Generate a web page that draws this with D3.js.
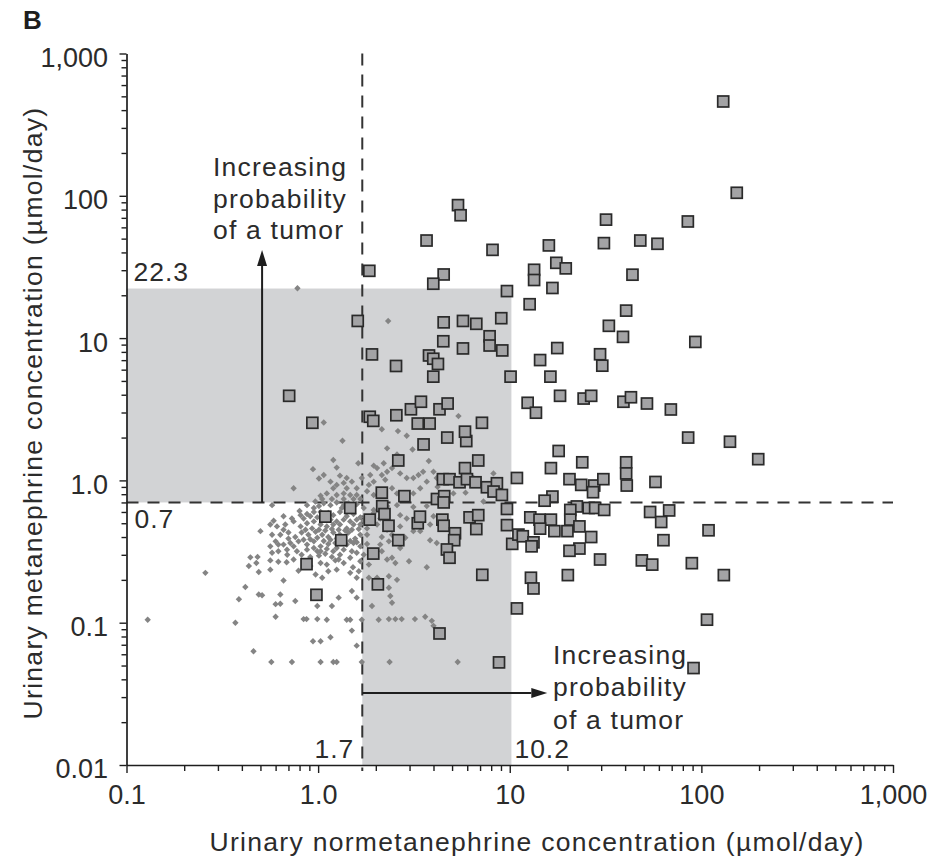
<!DOCTYPE html>
<html>
<head>
<meta charset="utf-8">
<script src="https://cdn.jsdelivr.net/npm/d3@7"></script>
<style>
body { margin: 0; background: #fff; }
text { font-family: "Liberation Sans", Arial, Helvetica, sans-serif; fill: #2b2b2b; }
</style>
</head>
<body>
<div id="draw"></div>
<script>
// [normetanephrine, metanephrine] in umol/day
var tumorPts = [
	[130,460],[153,105],[31.8,68],[85,66],[31,46.5],[48,48.5],[59,46],[43.7,27.9],[40.5,15.6],[32.9,12.2],[39,10.2],[93,9.4],[29.6,7.7],[30.4,6.4],
	[5.37,86],[5.54,73],[3.68,48.5],[8.13,41.7],[16,44.8],[17.5,33.8],[19.6,30.9],[13.4,30.2],[13.4,25.6],[16.7,22.5],[1.85,29.7],[4.52,28],[3.99,24.1],
	[9.67,21.4],[12.7,17.3],[1.61,13.2],[4.52,12.9],[5.7,13.2],[6.69,12.6],[9.03,13.8],[4.5,9.5],[5.7,8.46],[7.85,10.3],[7.85,8.87],[9.14,8.19],
	[1.91,7.68],[2.55,6.37],[3.79,7.55],[3.99,7.16],[4.22,6.58],[14.4,7.01],[17.7,8.51],[3.99,5.36],[10.1,5.36],[16.3,5.36],
	[0.706,3.93],[0.933,2.54],[1.86,2.8],[1.94,2.62],[2.56,2.87],[3.05,3.16],[3.44,3.57],[4.3,3.16],[4.74,3.47],[3.31,2.51],[3.82,2.51],[4.72,2.0],
	[5.93,1.89],[5.84,2.2],[7.16,2.54],[3.55,1.79],[2.62,1.38],[6.85,1.38],[5.84,1.22],[4.48,1.02],[4.85,1.02],[5.47,0.97],[5.98,1.02],[6.63,0.97],
	[7.6,0.895],[8.57,0.955],[8.23,0.835],[9.1,0.79],[2.15,0.82],[2.82,0.775],[4.17,0.74],[4.55,0.775],[4.52,0.7],[1.47,0.64],[9.67,0.63],[2.16,0.66],
	[2.22,0.58],[1.86,0.53],[1.09,0.556],[2.33,0.48],[3.31,0.5],[3.4,0.556],[4.45,0.53],[4.52,0.48],[6.17,0.55],[6.85,0.57],[6.69,0.455],[9.67,0.485],
	[5.18,0.425],[5.13,0.38],[2.62,0.38],[1.32,0.38],[4.7,0.327],[4.85,0.286],[10.3,0.358],[1.94,0.306],[0.87,0.258],[7.19,0.217],[2.05,0.186],
	[0.98,0.157],[4.3,0.084],[8.79,0.0526],[10.9,0.126],[10.9,1.04],[11.1,0.416],
	[18.3,3.93],[12.4,3.51],[13.7,2.99],[24.3,3.76],[26.6,3.93],[39.2,3.57],[42.9,3.84],[52,3.47],[69.3,3.15],[85.3,2.0],[141,1.87],[198,1.41],
	[18,1.61],[23.9,1.34],[16.4,1.22],[40.5,1.34],[40.5,1.12],[40.8,0.92],[57.6,0.975],[20.5,1.02],[23.6,0.93],[27.6,0.92],[30.8,1.02],[27.2,0.826],
	[16.7,0.77],[15.2,0.72],[22.4,0.656],[20.7,0.62],[25.8,0.64],[27.9,0.64],[31.1,0.62],[12.8,0.55],[14.3,0.53],[16.4,0.53],[20.7,0.53],[23.1,0.475],
	[14.4,0.458],[17.1,0.44],[20,0.44],[11.7,0.405],[13.3,0.367],[13,0.344],[26.6,0.4],[23.1,0.332],[20.5,0.32],[54,0.6],[67.9,0.615],[61.7,0.51],
	[63.4,0.38],[109,0.446],[29.6,0.278],[48.9,0.274],[55.4,0.256],[89.2,0.262],[131,0.216],[20.1,0.216],[12.9,0.207],[13.3,0.174],[107,0.105],[91,0.048]
];

var noTumorPts = [
	[1.07,2.55],[1.34,1.9],[2.15,2.29],[2.61,2.22],[2.9,2.06],[2.29,1.68],[3.11,1.65],[2.58,1.52],[3.78,1.37],[5.4,2.83],
	[1.2,1.39],[1.25,1.23],[1.62,1.32],[0.94,1.2],[1.01,1.03],[1.07,1.09],[0.745,0.88],[1.3,1.08],[1.25,0.93],[1.36,0.96],
	[1.41,1.04],[1.2,0.88],[1.11,0.81],[1.03,0.78],[1.95,1.27],[2.03,1.22],[2.2,1.32],[2.29,1.15],[2.43,1.22],[1.87,1.09],
	[1.95,0.98],[2.15,1.09],[2.24,1.01],[2.68,1.12],[2.9,1.04],[3.14,1.04],[3.34,1.09],[3.53,1.15],[3.69,0.98],[4.0,1.15],
	[4.16,1.04],[4.2,0.9],[5.08,0.81],[5.88,0.82],[6.47,1.04],[7.29,0.71],[8.22,1.12],[3.41,0.88],[3.14,0.81],[2.58,0.81],
	[2.43,0.88],[1.8,0.84],[1.59,0.79],[1.47,0.79],[1.36,0.81],[1.84,0.93],[1.69,1.04],[1.59,0.88],[1.95,0.79],[1.36,0.74],
	[1.66,0.74],[2.9,0.75],
	[0.575,0.67],[0.8,0.61],[0.875,0.67],[0.95,0.64],[1.01,0.66],[1.07,0.69],[1.16,0.67],[1.25,0.7],[1.36,0.67],[1.5,0.66],
	[1.59,0.68],[1.73,0.64],[1.95,0.62],[2.29,0.66],[2.58,0.67],[3.14,0.65],[3.69,0.66],
	[0.586,0.52],[0.66,0.56],[0.73,0.54],[0.81,0.57],[0.875,0.58],[0.95,0.6],[1.03,0.6],[1.13,0.59],[1.2,0.57],[1.3,0.6],
	[1.41,0.56],[1.53,0.58],[1.66,0.55],[1.95,0.59],[2.11,0.54],[2.68,0.57],[2.9,0.54],[4.0,0.56],[3.84,0.49],[3.41,0.44],
	[0.5,0.44],[0.563,0.49],[0.61,0.475],[0.674,0.49],[0.745,0.515],[0.81,0.475],[0.875,0.5],[0.95,0.515],[1.03,0.49],[1.11,0.475],
	[1.2,0.49],[1.3,0.49],[1.41,0.46],[1.53,0.49],[1.66,0.49],[1.8,0.46],[2.03,0.49],[2.29,0.45],[2.68,0.475],[3.14,0.44],
	[0.575,0.415],[0.635,0.415],[0.7,0.43],[0.76,0.4],[0.82,0.43],[0.89,0.415],[0.97,0.435],[1.05,0.415],[1.13,0.4],[1.2,0.43],
	[1.3,0.415],[1.44,0.43],[1.56,0.39],[1.66,0.415],[1.8,0.415],[2.15,0.4],[2.43,0.415],[2.85,0.395],[3.84,0.38],
	[0.563,0.344],[0.6,0.373],[0.66,0.354],[0.716,0.363],[0.79,0.373],[0.875,0.354],[0.95,0.373],[1.03,0.344],[1.13,0.357],[1.23,0.363],
	[1.41,0.354],[1.53,0.363],[1.66,0.344],[1.8,0.357],[2.11,0.354],[2.34,0.373],[2.68,0.335],[4.16,0.363],
	[0.443,0.288],[0.483,0.29],[0.575,0.31],[0.62,0.318],[0.69,0.3],[0.775,0.318],[0.82,0.3],[0.99,0.318],[1.09,0.305],[1.2,0.318],
	[1.3,0.3],[1.47,0.286],[1.59,0.31],[1.73,0.3],[2.15,0.318],[2.43,0.286],[2.98,0.27],[3.69,0.245],
	[0.435,0.25],[0.476,0.263],[0.563,0.274],[0.62,0.268],[0.685,0.266],[0.745,0.278],[0.91,0.25],[1.03,0.263],[1.11,0.256],[1.23,0.274],
	[1.36,0.263],[1.52,0.245],[1.66,0.27],[1.84,0.256],[2.29,0.278],[2.53,0.263],
	[0.258,0.224],[0.49,0.227],[0.563,0.236],[0.66,0.198],[0.79,0.232],[0.97,0.218],[1.05,0.207],[1.13,0.23],[1.25,0.236],[1.47,0.224],
	[1.59,0.207],[2.34,0.212],[2.58,0.2],[1.63,0.23],[2.03,0.207],
	[0.417,0.178],[0.49,0.158],[0.51,0.156],[0.635,0.158],[0.386,0.146],[0.6,0.135],[0.635,0.136],[0.76,0.142],[0.99,0.131],[1.18,0.131],
	[1.28,0.15],[1.5,0.167],[1.59,0.15],[1.91,0.131],[2.38,0.154],[2.43,0.138],[2.34,0.176],[1.84,0.207],
	[0.37,0.1],[0.6,0.11],[0.84,0.106],[0.87,0.106],[0.99,0.106],[1.11,0.105],[1.41,0.105],[1.47,0.105],[1.69,0.105],[2.07,0.105],
	[2.34,0.106],[2.53,0.106],[2.73,0.106],[3.2,0.106],[3.62,0.11],[3.92,0.103],[4.0,0.095],
	[1.5,0.088],[1.16,0.079],[0.94,0.074],[1.03,0.074],[1.59,0.069],
	[0.46,0.063],[0.57,0.053],[0.73,0.053],[1.03,0.053],[1.2,0.053],[1.25,0.053],[1.69,0.053],[2.36,0.053],[5.35,0.053],
	[0.129,0.105],[0.78,22.4],[2.32,13.2],
	[0.84,0.54],[0.91,0.56],[0.99,0.55],[1.07,0.55],[1.16,0.53],[1.25,0.515],[1.36,0.53],[1.47,0.515],[1.59,0.53],[1.73,0.52],
	[0.86,0.45],[0.93,0.46],[1.01,0.45],[1.09,0.445],[1.18,0.455],[1.28,0.45],[1.385,0.445],[1.5,0.45],[1.63,0.455],
	[0.84,0.383],[0.91,0.386],[0.99,0.395],[1.07,0.375],[1.16,0.383],[1.25,0.39],[1.36,0.383],[1.47,0.375],[1.59,0.368],
	[0.875,0.326],[0.95,0.335],[1.03,0.318],[1.11,0.33],[1.25,0.335],[1.36,0.326],[1.5,0.318],
	[0.66,0.45],[0.7,0.39],[0.62,0.354],[0.745,0.344],[0.688,0.326],
	[0.91,0.29],[1.01,0.296],[1.18,0.29],[1.28,0.278],
	[1.16,0.98],[1.41,0.88],[1.5,0.98],[1.25,0.79],[1.18,0.74],[1.53,0.74],[1.44,0.69],[1.33,0.64],[1.05,0.74],[0.967,0.71]
];

var xMajor = [0.1, 1, 10, 100, 1000];
var xTickLabels = ['0.1', '1.0', '10', '100', '1,000'];
var yMajor = [0.01, 0.1, 1, 10, 100, 1000];
var yTickLabels = ['0.01', '0.1', '1.0', '10', '100', '1,000'];

var normCut = [1.7, 10.2];   // normetanephrine cut-offs
var metaCut = [0.7, 22.3];   // metanephrine cut-offs

var arrowUp = { x: 0.51, from: 0.7, to: 41.6 };
var arrowRight = { y: 0.032, from: 1.7, to: 15.7 };
var noteLines = ['Increasing', 'probability', 'of a tumor'];

var margin = { top: 53.5, right: 42, bottom: 95, left: 126.5 },
	width = 935 - margin.left - margin.right,
	height = 860 - margin.top - margin.bottom;

var root = d3
	.select('#draw')
	.append('svg')
	.attr('width', 935)
	.attr('height', 860);

var svg = root
	.append('g')
	.attr('transform', 'translate(' + margin.left + ',' + margin.top + ')');

var x = d3.scaleLog().domain([0.1, 1000]).range([0, width]);
var y = d3.scaleLog().domain([0.01, 1000]).range([height, 0]);

// shaded zones
var shade = '#d2d3d5';
svg.append('rect')
	.attr('x', x(0.1)).attr('y', y(metaCut[1]))
	.attr('width', x(normCut[1]) - x(0.1))
	.attr('height', y(metaCut[0]) - y(metaCut[1]))
	.style('fill', shade);
svg.append('rect')
	.attr('x', x(normCut[0])).attr('y', y(metaCut[0]) - 1)
	.attr('width', x(normCut[1]) - x(normCut[0]))
	.attr('height', y(0.01) - y(metaCut[0]) + 1)
	.style('fill', shade);

// dashed cut-off lines
svg.append('line')
	.attr('x1', x(normCut[0])).attr('x2', x(normCut[0]))
	.attr('y1', y(1000)).attr('y2', y(0.01) + 6)
	.style('stroke', '#333').style('stroke-width', 2)
	.style('stroke-dasharray', '12,9');
svg.append('line')
	.attr('x1', x(0.1)).attr('x2', x(1000))
	.attr('y1', y(metaCut[0])).attr('y2', y(metaCut[0]))
	.style('stroke', '#333').style('stroke-width', 2)
	.style('stroke-dasharray', '12,9');

// patients without tumor
svg.selectAll('.dia')
	.data(noTumorPts)
	.enter()
	.append('path')
	.attr('class', 'dia')
	.attr('d', 'M0,-3.2L3.2,0L0,3.2L-3.2,0Z')
	.attr('transform', function (d) {
		return 'translate(' + x(d[0]) + ',' + y(d[1]) + ')';
	})
	.style('fill', '#848484');

// patients with tumor
var sq = 11;
svg.selectAll('.sq')
	.data(tumorPts)
	.enter()
	.append('rect')
	.attr('class', 'sq')
	.attr('x', function (d) { return x(d[0]) - sq / 2; })
	.attr('y', function (d) { return y(d[1]) - sq / 2; })
	.attr('width', sq)
	.attr('height', sq)
	.style('fill', '#a3a3a5')
	.style('stroke', '#2a2a2a')
	.style('stroke-width', 1.7);

// arrows
function arrow(x1, y1, x2, y2) {
	var a = Math.atan2(y2 - y1, x2 - x1), len = 16, hw = 5;
	var bx = x2 - len * Math.cos(a), by = y2 - len * Math.sin(a);
	svg.append('line')
		.attr('x1', x1).attr('y1', y1).attr('x2', bx).attr('y2', by)
		.style('stroke', '#1e1e1e').style('stroke-width', 2);
	svg.append('path')
		.attr('d', 'M' + x2 + ',' + y2 +
			'L' + (bx - hw * Math.sin(a)) + ',' + (by + hw * Math.cos(a)) +
			'L' + (bx + hw * Math.sin(a)) + ',' + (by - hw * Math.cos(a)) + 'Z')
		.style('fill', '#1e1e1e');
}
arrow(x(arrowUp.x), y(arrowUp.from), x(arrowUp.x), y(arrowUp.to));
arrow(x(arrowRight.from), y(arrowRight.y), x(arrowRight.to), y(arrowRight.y));

// notes
function note(x0, y0, gap) {
	svg.append('text')
		.attr('x', x0).attr('y', y0)
		.style('font-size', '26.5px').style('letter-spacing', '1.2px')
		.selectAll('tspan')
		.data(noteLines)
		.enter()
		.append('tspan')
		.attr('x', x0)
		.attr('dy', function (d, i) { return i ? gap : 0; })
		.text(function (d) { return d; });
}
note(213 - margin.left, 176 - margin.top, 31.5);
note(553 - margin.left, 663.5 - margin.top, 32.5);

function cutLabel(t, px, py, anchor) {
	svg.append('text')
		.attr('x', px).attr('y', py)
		.style('text-anchor', anchor)
		.style('font-size', '26.5px').style('letter-spacing', '1px')
		.text(t);
}
cutLabel(String(metaCut[1]), x(0.1) + 7, y(metaCut[1]) - 8, 'start');
cutLabel(String(metaCut[0]), x(0.1) + 8, y(metaCut[0]) + 26, 'start');
cutLabel(String(normCut[0]), x(normCut[0]) - 8, height - 7, 'end');
cutLabel(String(normCut[1]), x(normCut[1]) + 3, height - 7, 'start');

// axes
function minorOf(majors) {
	var out = [];
	majors.slice(0, -1).forEach(function (d) {
		for (var k = 2; k < 10; k++) out.push(d * k);
	});
	return out;
}

var xAxis = d3.axisBottom(x)
	.tickValues(xMajor.concat(minorOf(xMajor)))
	.tickSize(6).tickSizeOuter(0).tickPadding(14)
	.tickFormat(function (d) {
		var i = xMajor.indexOf(d);
		return i < 0 ? '' : xTickLabels[i];
	});
var yAxis = d3.axisLeft(y)
	.tickValues(yMajor.concat(minorOf(yMajor)))
	.tickSize(5).tickSizeOuter(0).tickPadding(13.5)
	.tickFormat(function (d) {
		var i = yMajor.indexOf(d);
		return i < 0 ? '' : yTickLabels[i];
	});

var gx = svg.append('g').attr('transform', 'translate(0,' + height + ')').call(xAxis);
var gy = svg.append('g').call(yAxis);

[gx, gy].forEach(function (g) {
	g.attr('font-family', null).attr('font-size', null);
	g.select('.domain').style('stroke', '#1e1e1e').style('stroke-width', 1.7);
	g.selectAll('.tick line').style('stroke', '#1e1e1e').style('stroke-width', 1.4);
	g.selectAll('.tick text').style('font-size', '27px').style('fill', '#2b2b2b');
});
gx.selectAll('.tick')
	.filter(function (d) { return xMajor.indexOf(d) >= 0; })
	.select('line').attr('y2', 8);
gy.selectAll('.tick')
	.filter(function (d) { return yMajor.indexOf(d) >= 0; })
	.select('line').attr('x2', -7);
gy.selectAll('.tick text').attr('dy', '0.48em');

// axis titles
svg.append('text')
	.attr('x', 537 - margin.left)
	.attr('y', 850.5 - margin.top)
	.style('text-anchor', 'middle')
	.style('font-size', '26.5px').style('letter-spacing', '1.3px')
	.text('Urinary normetanephrine concentration (µmol/day)');

svg.append('text')
	.attr('transform', 'translate(' + (42 - margin.left) + ',' + (413 - margin.top) + ') rotate(-90)')
	.style('text-anchor', 'middle')
	.style('font-size', '26.5px').style('letter-spacing', '1.3px')
	.text('Urinary metanephrine concentration (µmol/day)');

root.append('text')
	.attr('x', 23).attr('y', 28.5)
	.style('font-size', '26px').style('font-weight', 'bold')
	.style('fill', '#1e1e1e')
	.text('B');
</script>
</body>
</html>
